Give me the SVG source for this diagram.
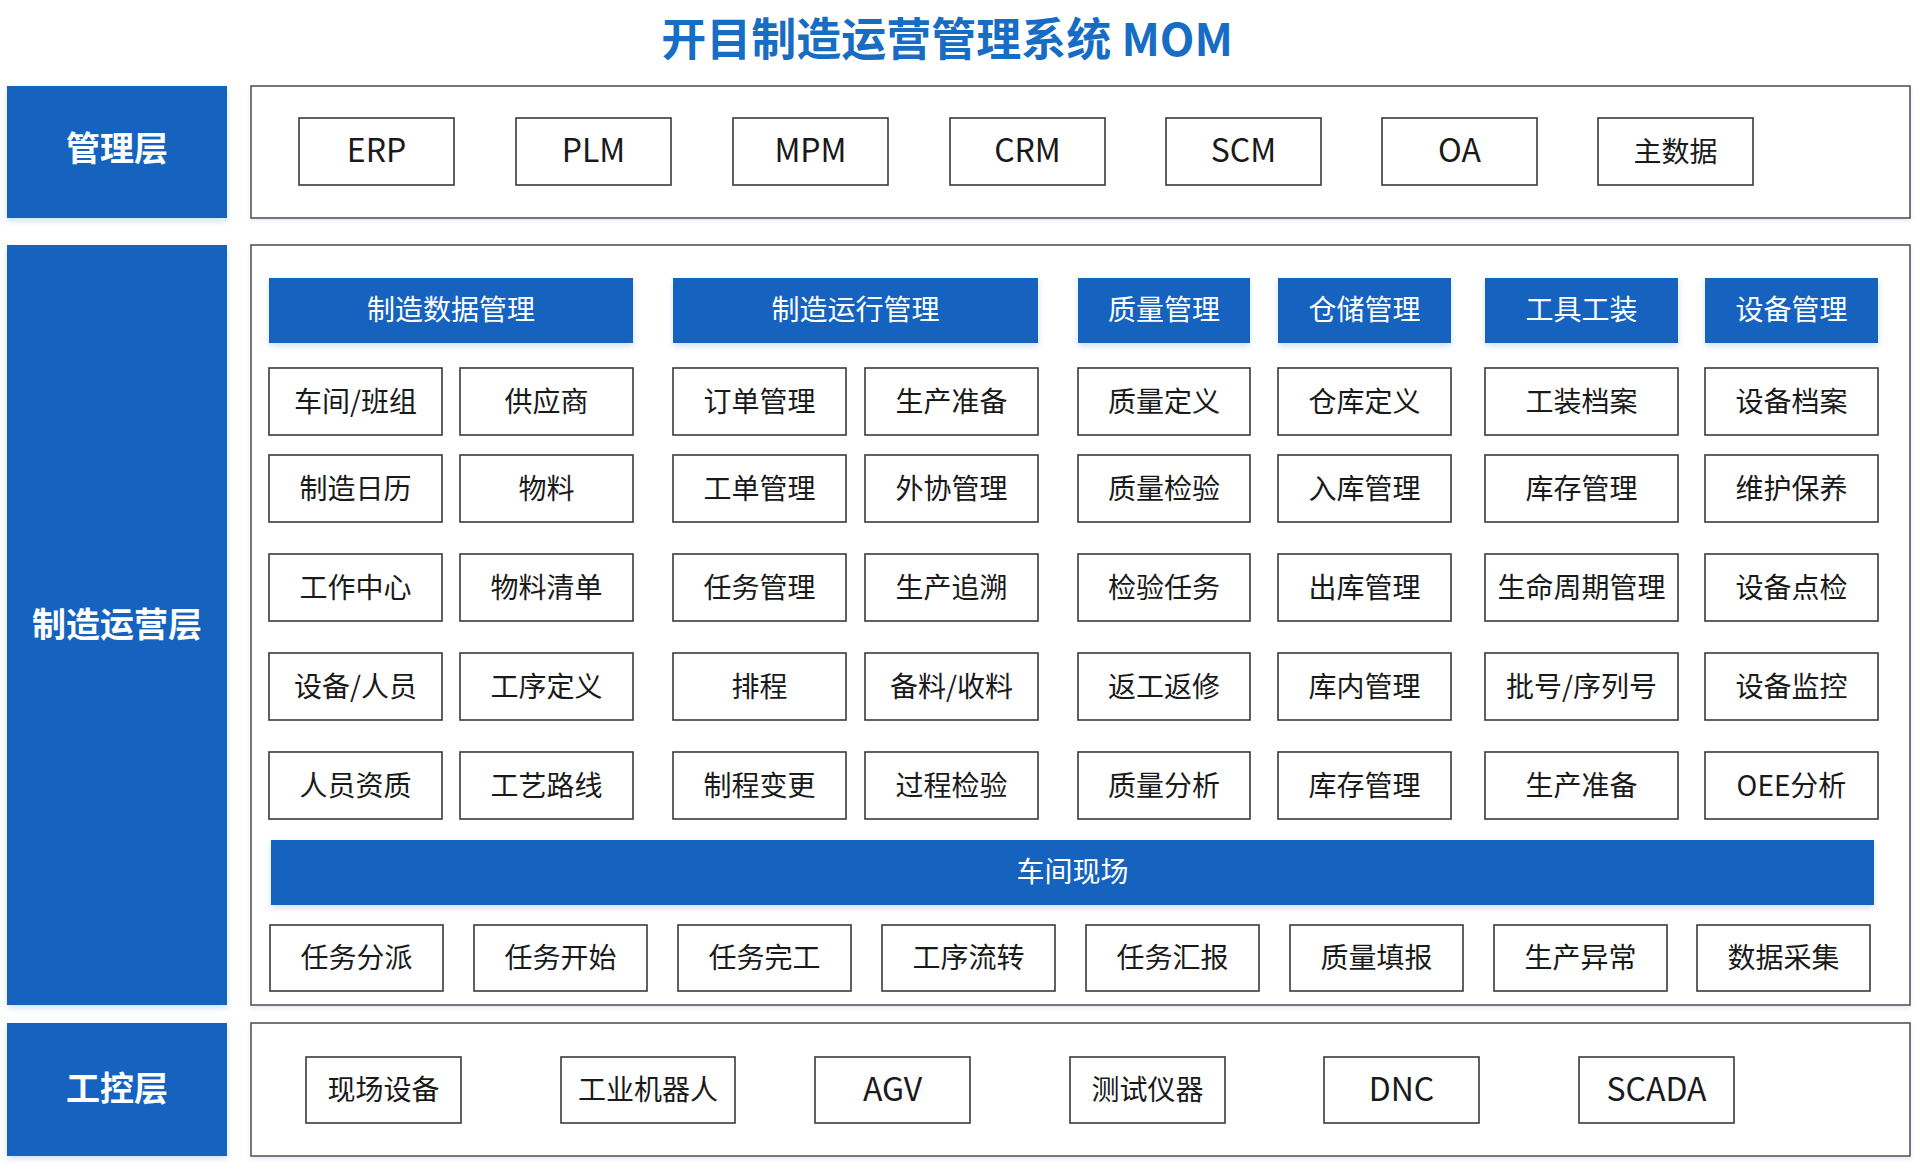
<svg xmlns="http://www.w3.org/2000/svg" width="1920" height="1170" viewBox="0 0 1920 1170">
<defs>
<filter id="sh" x="-10%" y="-20%" width="120%" height="150%"><feDropShadow dx="0" dy="3" stdDeviation="3" flood-color="#7fa8e0" flood-opacity="0.35"/></filter>
<filter id="sh2" x="-5%" y="-20%" width="110%" height="150%"><feDropShadow dx="0" dy="2" stdDeviation="2" flood-color="#9bb6dc" flood-opacity="0.3"/></filter>
<style>
text{font-family:"Noto Sans CJK SC","Noto Sans",sans-serif;text-anchor:middle}
.layer{fill:#1964BF;filter:url(#sh)}
.ltxt{fill:#fff;font-size:34px;font-weight:bold}
.outer{fill:#fff;stroke:#555;stroke-width:1.6;filter:url(#sh2)}
.hdr{fill:#1964BF;filter:url(#sh)}
.htxt{fill:#fff;font-size:28px}
.item{fill:#fff;stroke:#3a3a3a;stroke-width:1.6}
.itxt{fill:#1a1a1a;font-size:28px}
.lat{font-size:32px}
.title{fill:#176DC4;font-size:45px;font-weight:bold}
</style>
</defs>
<rect width="1920" height="1170" fill="#fff"/>
<text class="title" x="947" y="56">开目制造运营管理系统 MOM</text>

<g id="layer-mgmt">
<rect class="layer" x="7" y="86" width="220" height="132"/>
<text class="ltxt" x="117" y="161">管理层</text>
<rect class="outer" x="251" y="86" width="1659" height="132"/>
</g>
<g id="layer-mom">
<rect class="layer" x="7" y="245" width="220" height="760"/>
<text class="ltxt" x="117" y="637">制造运营层</text>
<rect class="outer" x="251" y="245" width="1659" height="760"/>
</g>
<g id="layer-ctrl">
<rect class="layer" x="7" y="1023" width="220" height="133"/>
<text class="ltxt" x="117" y="1101">工控层</text>
<rect class="outer" x="251" y="1023" width="1659" height="133"/>
</g>

<g id="mgmt-items">
<g id="n-erp"><rect class="item" x="299" y="118" width="155" height="67"/><text class="itxt lat" x="376.5" y="162">ERP</text></g>
<g id="n-plm"><rect class="item" x="516" y="118" width="155" height="67"/><text class="itxt lat" x="593.5" y="162">PLM</text></g>
<g id="n-mpm"><rect class="item" x="733" y="118" width="155" height="67"/><text class="itxt lat" x="810.5" y="162">MPM</text></g>
<g id="n-crm"><rect class="item" x="950" y="118" width="155" height="67"/><text class="itxt lat" x="1027.5" y="162">CRM</text></g>
<g id="n-scm"><rect class="item" x="1166" y="118" width="155" height="67"/><text class="itxt lat" x="1243.5" y="162">SCM</text></g>
<g id="n-oa"><rect class="item" x="1382" y="118" width="155" height="67"/><text class="itxt lat" x="1459.5" y="162">OA</text></g>
<g id="n-md"><rect class="item" x="1598" y="118" width="155" height="67"/><text class="itxt" x="1675.5" y="161.5">主数据</text></g>
</g>

<g id="headers">
<g id="h-data"><rect class="hdr" x="269" y="278" width="364" height="65"/><text class="htxt" x="451" y="320">制造数据管理</text></g>
<g id="h-run"><rect class="hdr" x="673" y="278" width="365" height="65"/><text class="htxt" x="855.5" y="320">制造运行管理</text></g>
<g id="h-qa"><rect class="hdr" x="1078" y="278" width="172" height="65"/><text class="htxt" x="1164" y="320">质量管理</text></g>
<g id="h-wh"><rect class="hdr" x="1278" y="278" width="173" height="65"/><text class="htxt" x="1364.5" y="320">仓储管理</text></g>
<g id="h-tool"><rect class="hdr" x="1485" y="278" width="193" height="65"/><text class="htxt" x="1581.5" y="320">工具工装</text></g>
<g id="h-eq"><rect class="hdr" x="1705" y="278" width="173" height="65"/><text class="htxt" x="1791.5" y="320">设备管理</text></g>
</g>

<g id="grid">
<g><rect class="item" x="269" y="368" width="173" height="67"/><text class="itxt" x="355.5" y="411.5">车间/班组</text></g>
<g><rect class="item" x="460" y="368" width="173" height="67"/><text class="itxt" x="546.5" y="411.5">供应商</text></g>
<g><rect class="item" x="673" y="368" width="173" height="67"/><text class="itxt" x="759.5" y="411.5">订单管理</text></g>
<g><rect class="item" x="865" y="368" width="173" height="67"/><text class="itxt" x="951.5" y="411.5">生产准备</text></g>
<g><rect class="item" x="1078" y="368" width="172" height="67"/><text class="itxt" x="1164" y="411.5">质量定义</text></g>
<g><rect class="item" x="1278" y="368" width="173" height="67"/><text class="itxt" x="1364.5" y="411.5">仓库定义</text></g>
<g><rect class="item" x="1485" y="368" width="193" height="67"/><text class="itxt" x="1581.5" y="411.5">工装档案</text></g>
<g><rect class="item" x="1705" y="368" width="173" height="67"/><text class="itxt" x="1791.5" y="411.5">设备档案</text></g>

<g><rect class="item" x="269" y="455" width="173" height="67"/><text class="itxt" x="355.5" y="498.5">制造日历</text></g>
<g><rect class="item" x="460" y="455" width="173" height="67"/><text class="itxt" x="546.5" y="498.5">物料</text></g>
<g><rect class="item" x="673" y="455" width="173" height="67"/><text class="itxt" x="759.5" y="498.5">工单管理</text></g>
<g><rect class="item" x="865" y="455" width="173" height="67"/><text class="itxt" x="951.5" y="498.5">外协管理</text></g>
<g><rect class="item" x="1078" y="455" width="172" height="67"/><text class="itxt" x="1164" y="498.5">质量检验</text></g>
<g><rect class="item" x="1278" y="455" width="173" height="67"/><text class="itxt" x="1364.5" y="498.5">入库管理</text></g>
<g><rect class="item" x="1485" y="455" width="193" height="67"/><text class="itxt" x="1581.5" y="498.5">库存管理</text></g>
<g><rect class="item" x="1705" y="455" width="173" height="67"/><text class="itxt" x="1791.5" y="498.5">维护保养</text></g>

<g><rect class="item" x="269" y="554" width="173" height="67"/><text class="itxt" x="355.5" y="597.5">工作中心</text></g>
<g><rect class="item" x="460" y="554" width="173" height="67"/><text class="itxt" x="546.5" y="597.5">物料清单</text></g>
<g><rect class="item" x="673" y="554" width="173" height="67"/><text class="itxt" x="759.5" y="597.5">任务管理</text></g>
<g><rect class="item" x="865" y="554" width="173" height="67"/><text class="itxt" x="951.5" y="597.5">生产追溯</text></g>
<g><rect class="item" x="1078" y="554" width="172" height="67"/><text class="itxt" x="1164" y="597.5">检验任务</text></g>
<g><rect class="item" x="1278" y="554" width="173" height="67"/><text class="itxt" x="1364.5" y="597.5">出库管理</text></g>
<g><rect class="item" x="1485" y="554" width="193" height="67"/><text class="itxt" x="1581.5" y="597.5">生命周期管理</text></g>
<g><rect class="item" x="1705" y="554" width="173" height="67"/><text class="itxt" x="1791.5" y="597.5">设备点检</text></g>

<g><rect class="item" x="269" y="653" width="173" height="67"/><text class="itxt" x="355.5" y="696.5">设备/人员</text></g>
<g><rect class="item" x="460" y="653" width="173" height="67"/><text class="itxt" x="546.5" y="696.5">工序定义</text></g>
<g><rect class="item" x="673" y="653" width="173" height="67"/><text class="itxt" x="759.5" y="696.5">排程</text></g>
<g><rect class="item" x="865" y="653" width="173" height="67"/><text class="itxt" x="951.5" y="696.5">备料/收料</text></g>
<g><rect class="item" x="1078" y="653" width="172" height="67"/><text class="itxt" x="1164" y="696.5">返工返修</text></g>
<g><rect class="item" x="1278" y="653" width="173" height="67"/><text class="itxt" x="1364.5" y="696.5">库内管理</text></g>
<g><rect class="item" x="1485" y="653" width="193" height="67"/><text class="itxt" x="1581.5" y="696.5">批号/序列号</text></g>
<g><rect class="item" x="1705" y="653" width="173" height="67"/><text class="itxt" x="1791.5" y="696.5">设备监控</text></g>

<g><rect class="item" x="269" y="752" width="173" height="67"/><text class="itxt" x="355.5" y="795.5">人员资质</text></g>
<g><rect class="item" x="460" y="752" width="173" height="67"/><text class="itxt" x="546.5" y="795.5">工艺路线</text></g>
<g><rect class="item" x="673" y="752" width="173" height="67"/><text class="itxt" x="759.5" y="795.5">制程变更</text></g>
<g><rect class="item" x="865" y="752" width="173" height="67"/><text class="itxt" x="951.5" y="795.5">过程检验</text></g>
<g><rect class="item" x="1078" y="752" width="172" height="67"/><text class="itxt" x="1164" y="795.5">质量分析</text></g>
<g><rect class="item" x="1278" y="752" width="173" height="67"/><text class="itxt" x="1364.5" y="795.5">库存管理</text></g>
<g><rect class="item" x="1485" y="752" width="193" height="67"/><text class="itxt" x="1581.5" y="795.5">生产准备</text></g>
<g><rect class="item" x="1705" y="752" width="173" height="67"/><text class="itxt" x="1791.5" y="795.5">OEE分析</text></g>
</g>

<g id="shopfloor">
<rect class="hdr" x="271" y="840" width="1603" height="65"/>
<text class="htxt" x="1072.5" y="882">车间现场</text>
</g>

<g id="shopfloor-items">
<g><rect class="item" x="270" y="925" width="173" height="66"/><text class="itxt" x="356.5" y="968">任务分派</text></g>
<g><rect class="item" x="474" y="925" width="173" height="66"/><text class="itxt" x="560.5" y="968">任务开始</text></g>
<g><rect class="item" x="678" y="925" width="173" height="66"/><text class="itxt" x="764.5" y="968">任务完工</text></g>
<g><rect class="item" x="882" y="925" width="173" height="66"/><text class="itxt" x="968.5" y="968">工序流转</text></g>
<g><rect class="item" x="1086" y="925" width="173" height="66"/><text class="itxt" x="1172.5" y="968">任务汇报</text></g>
<g><rect class="item" x="1290" y="925" width="173" height="66"/><text class="itxt" x="1376.5" y="968">质量填报</text></g>
<g><rect class="item" x="1494" y="925" width="173" height="66"/><text class="itxt" x="1580.5" y="968">生产异常</text></g>
<g><rect class="item" x="1697" y="925" width="173" height="66"/><text class="itxt" x="1783.5" y="968">数据采集</text></g>
</g>

<g id="ctrl-items">
<g id="n-field"><rect class="item" x="306" y="1057" width="155" height="66"/><text class="itxt" x="383.5" y="1100">现场设备</text></g>
<g id="n-robot"><rect class="item" x="561" y="1057" width="174" height="66"/><text class="itxt" x="648" y="1100">工业机器人</text></g>
<g id="n-agv"><rect class="item" x="815" y="1057" width="155" height="66"/><text class="itxt lat" x="892.5" y="1101">AGV</text></g>
<g id="n-test"><rect class="item" x="1070" y="1057" width="155" height="66"/><text class="itxt" x="1147.5" y="1100">测试仪器</text></g>
<g id="n-dnc"><rect class="item" x="1324" y="1057" width="155" height="66"/><text class="itxt lat" x="1401.5" y="1101">DNC</text></g>
<g id="n-scada"><rect class="item" x="1579" y="1057" width="155" height="66"/><text class="itxt lat" x="1656.5" y="1101">SCADA</text></g>
</g>
<g id="connectors"/>
</svg>
